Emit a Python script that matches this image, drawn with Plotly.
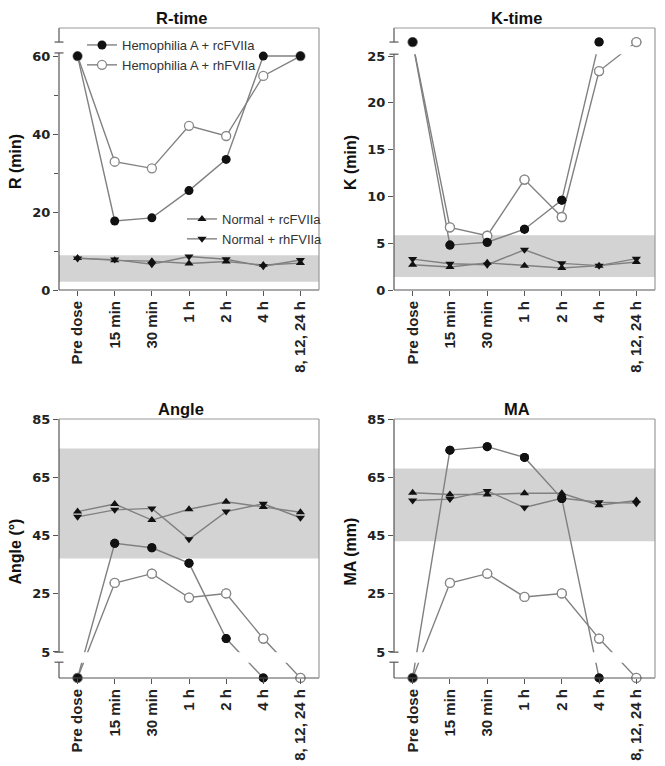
import plotly.graph_objects as go

W, H = 665, 766
OFF = 8  # page margin around the figure in the browser

timepoints = ["Pre dose", "15 min", "30 min", "1 h", "2 h", "4 h", "8, 12, 24 h"]

# R-time (min)
r_hemo_rc = [60, 17.7, 18.5, 25.5, 33.5, 60, 60]
r_hemo_rh = [60, 32.9, 31.2, 42.1, 39.5, 54.9, 60]
r_norm_rc = [8.2, 7.6, 7.4, 6.8, 7.3, 6.4, 6.9]
r_norm_rh = [8.1, 7.8, 6.6, 8.6, 7.9, 6.1, 7.7]

# K-time (min), 26.5 = off scale (above the axis break)
k_hemo_rc = [26.5, 4.8, 5.1, 6.5, 9.6, 26.5, None]
k_hemo_rh = [26.5, 6.7, 5.8, 11.8, 7.8, 23.4, 26.5]
k_norm_rc = [2.7, 2.45, 2.9, 2.6, 2.35, 2.6, 3.0]
k_norm_rh = [3.3, 2.8, 2.7, 4.3, 2.85, 2.6, 3.35]

# Angle (deg), -3.9 = off scale (below the axis break)
a_hemo_rc = [-3.9, 42.3, 40.8, 35.5, 9.6, -3.9, None]
a_hemo_rh = [-3.9, 28.7, 31.9, 23.7, 25.1, 9.6, -3.9]
a_norm_rc = [53.2, 55.8, 50.3, 54.0, 56.6, 54.8, 53.0]
a_norm_rh = [51.4, 53.8, 54.3, 43.7, 53.2, 55.9, 51.1]

# MA (mm)
ma_hemo_rc = [-3.9, 74.3, 75.5, 71.8, 57.7, -3.9, None]
ma_hemo_rh = [-3.9, 28.7, 31.9, 23.9, 25.1, 9.6, -3.9]
ma_norm_rc = [59.7, 59.1, 59.1, 59.5, 59.5, 55.4, 57.0]
ma_norm_rh = [57.0, 57.5, 60.3, 54.6, 57.8, 56.4, 56.1]

# normal ranges (gray bands)
r_band = (2.1, 8.9)
k_band = (1.4, 5.85)
a_band = (37.1, 74.9)
ma_band = (43.0, 68.0)

FONT = "Liberation Sans, Arial, sans-serif"
WIDE = "DejaVu Sans, Liberation Sans, sans-serif"
LINE = "#808080"
AX = "#555555"

STYLES = {
    "hemo_rc": dict(symbol="circle", size=9, color="#111111", line=dict(width=0)),
    "hemo_rh": dict(symbol="circle", size=9, color="white", line=dict(color="#888888", width=1.3)),
    "norm_rc": dict(symbol="triangle-up", size=8, color="#111111", line=dict(width=0)),
    "norm_rh": dict(symbol="triangle-down", size=8, color="#111111", line=dict(width=0)),
}
NAMES = {
    "hemo_rc": "Hemophilia A + rcFVIIa",
    "hemo_rh": "Hemophilia A + rhFVIIa",
    "norm_rc": "Normal + rcFVIIa",
    "norm_rh": "Normal + rhFVIIa",
}


def px_x(v):
    return (v - OFF) / W


def px_y(v):
    return 1 - (v - OFF) / H


x = list(range(len(timepoints)))

panels = [
    dict(title="R-time", ytitle="R (min)", px=(59, 319), py=(28, 290), rng=[0, 67.2],
         ticks=[0, 20, 40, 60], minor=[10, 30, 50], band=r_band, brk=(60.8, 63.6), hide=None,
         data=dict(norm_rc=r_norm_rc, norm_rh=r_norm_rh, hemo_rh=r_hemo_rh, hemo_rc=r_hemo_rc),
         legend=True),
    dict(title="K-time", ytitle="K (min)", px=(394, 655), py=(28, 290), rng=[0, 28.0],
         ticks=[0, 5, 10, 15, 20, 25], minor=None, band=k_band, brk=(25.2, 26.5), hide=(25.2, 26.05),
         data=dict(norm_rc=k_norm_rc, norm_rh=k_norm_rh, hemo_rh=k_hemo_rh, hemo_rc=k_hemo_rc),
         legend=False),
    dict(title="Angle", ytitle="Angle (°)", px=(59, 319), py=(419, 678), rng=[-3.93, 85],
         ticks=[5, 25, 45, 65, 85], minor=None, band=a_band, brk=(1.5, 4.95), hide=(1.3, 4.95),
         data=dict(norm_rc=a_norm_rc, norm_rh=a_norm_rh, hemo_rh=a_hemo_rh, hemo_rc=a_hemo_rc),
         legend=False),
    dict(title="MA", ytitle="MA (mm)", px=(394, 655), py=(419, 678), rng=[-3.93, 85],
         ticks=[5, 25, 45, 65, 85], minor=None, band=ma_band, brk=(1.5, 4.95), hide=(1.3, 4.95),
         data=dict(norm_rc=ma_norm_rc, norm_rh=ma_norm_rh, hemo_rh=ma_hemo_rh, hemo_rc=ma_hemo_rc),
         legend=False),
]

fig = go.Figure()
shapes = []
annotations = []
layout = {}

for i, p in enumerate(panels):
    n = "" if i == 0 else str(i + 1)
    xa, ya = "x" + n, "y" + n
    (l, r), (t, b) = p["px"], p["py"]

    layout["xaxis" + n] = dict(
        domain=[px_x(l), px_x(r)], anchor=ya, range=[-0.5, 6.5], automargin=False,
        tickvals=x, ticktext=timepoints, tickangle=-90,
        ticks="outside", ticklen=5, tickcolor=AX, showline=False,
        showgrid=False, zeroline=False, fixedrange=True, ticklabelstandoff=-1,
        tickfont=dict(family=FONT, size=15, color="#222", weight="bold"),
    )
    yax = dict(
        domain=[px_y(b), px_y(t)], anchor=xa, range=p["rng"], automargin=False,
        tickvals=p["ticks"], ticks="outside", ticklen=5, tickcolor=AX,
        showline=False, showgrid=False, zeroline=False, fixedrange=True,
        tickfont=dict(family=WIDE, size=13, color="#222", weight="bold"),
    )
    if p["minor"]:
        yax["minor"] = dict(tickvals=p["minor"], ticks="outside", ticklen=4, tickcolor=AX)
    layout["yaxis" + n] = yax

    # normal range band
    shapes.append(dict(type="rect", xref=xa + " domain", yref=ya, x0=0, x1=1,
                       y0=p["band"][0], y1=p["band"][1], fillcolor="#d3d3d3",
                       line=dict(width=0), layer="below"))

    # series
    for key in ["norm_rc", "norm_rh", "hemo_rh", "hemo_rc"]:
        fig.add_trace(go.Scatter(
            x=x, y=p["data"][key], xaxis=xa, yaxis=ya, mode="lines+markers",
            name=NAMES[key], line=dict(color=LINE, width=1.4), marker=STYLES[key],
            cliponaxis=False, connectgaps=False, showlegend=p["legend"],
            legend="legend" if key.startswith("hemo") else "legend2",
            legendrank={"hemo_rc": 1, "hemo_rh": 2, "norm_rc": 1, "norm_rh": 2}[key],
            hoverinfo="skip",
        ))

    # axis break: hide the lines crossing it, then redraw the markers
    if p["hide"]:
        h0, h1 = p["hide"]
        fig.add_trace(go.Scatter(
            x=[-0.5, 6.5, 6.5, -0.5, -0.5], y=[h0, h0, h1, h1, h0], xaxis=xa, yaxis=ya,
            mode="lines", fill="toself", fillcolor="white", line=dict(width=0),
            showlegend=False, hoverinfo="skip",
        ))
        for key in ["hemo_rh", "hemo_rc"]:
            fig.add_trace(go.Scatter(
                x=x, y=p["data"][key], xaxis=xa, yaxis=ya, mode="markers",
                marker=STYLES[key], cliponaxis=False, showlegend=False, hoverinfo="skip",
            ))

    # frame: left axis with break, bottom axis, grey top/right border
    lo, hi = p["rng"]
    g0, g1 = p["brk"]
    cap = 4.5 / (r - l)
    for y0, y1 in [(lo, g0), (g1, hi)]:
        shapes.append(dict(type="line", xref=xa + " domain", yref=ya, x0=0, x1=0, y0=y0, y1=y1,
                           line=dict(color=AX, width=1.2), layer="above"))
    for g in (g0, g1):
        shapes.append(dict(type="line", xref=xa + " domain", yref=ya, x0=-cap, x1=cap, y0=g, y1=g,
                           line=dict(color=AX, width=1.2), layer="above"))
    shapes.append(dict(type="line", xref=xa + " domain", yref=ya + " domain", x0=0, x1=1, y0=0, y1=0,
                       line=dict(color=AX, width=1.2), layer="above"))
    shapes.append(dict(type="line", xref=xa + " domain", yref=ya + " domain", x0=0, x1=1, y0=1, y1=1,
                       line=dict(color="#999999", width=1.2), layer="above"))
    shapes.append(dict(type="line", xref=xa + " domain", yref=ya + " domain", x0=1, x1=1, y0=0, y1=1,
                       line=dict(color="#999999", width=1.2), layer="above"))

    # panel title and y axis title
    annotations.append(dict(text=p["title"], xref="paper", yref="paper",
                            x=px_x((l + r) / 2 - 8), y=px_y(t - 10),
                            xanchor="center", yanchor="middle", showarrow=False,
                            font=dict(family=FONT, size=16.5, color="#111", weight="bold")))
    annotations.append(dict(text=p["ytitle"], xref="paper", yref="paper",
                            x=px_x(l - 44), y=px_y((t + b) / 2 + 3), textangle=-90,
                            xanchor="center", yanchor="middle", showarrow=False,
                            font=dict(family=FONT, size=16, color="#111", weight="bold")))

legend_style = dict(font=dict(family=FONT, size=13, color="#333"), bgcolor="rgba(0,0,0,0)",
                    xanchor="left", yanchor="top", tracegroupgap=0, itemwidth=30)

fig.update_layout(
    width=W, height=H, autosize=False,
    margin=dict(l=0, r=0, t=0, b=0),
    paper_bgcolor="white", plot_bgcolor="white",
    shapes=shapes, annotations=annotations,
    legend=dict(x=74 / W, y=1 - 22 / H, **legend_style),
    legend2=dict(x=174 / W, y=1 - 196 / H, **legend_style),
    **layout,
)

fig.write_html("out.html")
